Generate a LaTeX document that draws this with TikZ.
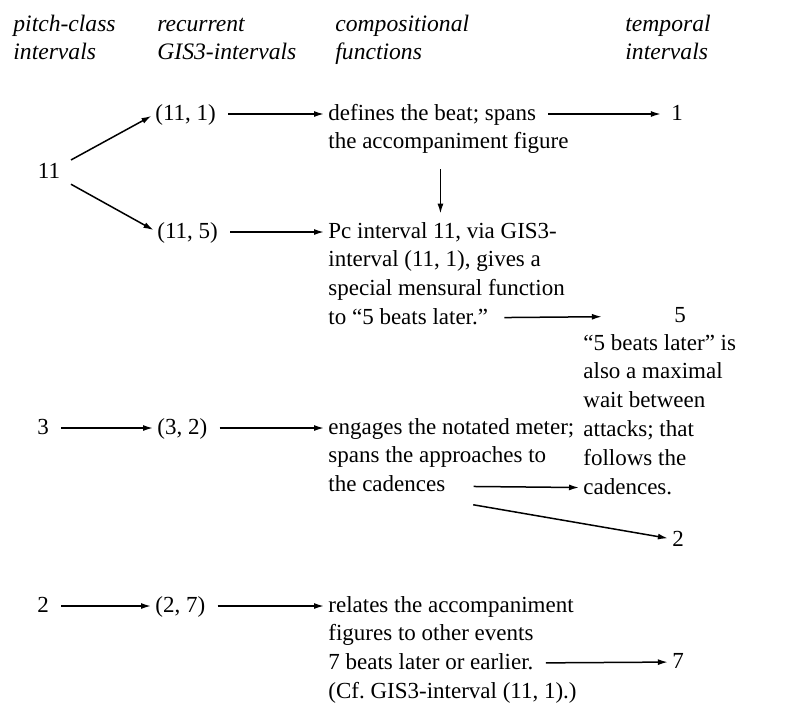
\documentclass[tikz,border=0pt]{standalone}
\usepackage{fontspec}
\setmainfont{Liberation Serif}
\usetikzlibrary{arrows.meta,positioning}

\begin{document}
\begin{tikzpicture}[
    x=0.5pt, y=-0.5pt,
    every node/.style={font=\fontsize{11.5}{14}\selectfont, inner sep=0pt},
    txt/.style={anchor=west, text height=10pt, text depth=4pt},
    num/.style={text height=10pt, text depth=4pt},
    nextline/.style={below=0pt of #1, anchor=north west, text height=10pt, text depth=4pt},
    colhead/.style={txt, font=\fontsize{11.8}{14}\selectfont\itshape},
    arrow/.style={-{Latex[length=5pt,width=3pt]}, line width=0.75pt, shorten <=6pt, shorten >=2pt}
  ]
  \useasboundingbox (0,0) rectangle (791,703);

  % column heads
  \node[colhead] (hpitch) at (13,25) {pitch-class};
  \node[colhead, nextline=hpitch.south west] (hpitch2) {intervals};
  \node[colhead] (hrec) at (157,25) {recurrent};
  \node[colhead, nextline=hrec.south west] (hrec2) {GIS3-intervals};
  \node[colhead] (hcomp) at (335,25) {compositional};
  \node[colhead, nextline=hcomp.south west] (hcomp2) {functions};
  \node[colhead] (htemp) at (625,25) {temporal};
  \node[colhead, nextline=htemp.south west] (htemp2) {intervals};

  % pitch-class intervals
  \node[num] (pc11) at (49,172) {11};
  \node[num] (pc3) at (43,428) {3};
  \node[num] (pc2) at (43,606) {2};

  % recurrent GIS3-intervals
  \node[txt] (r111) at (155,114) {(11, 1)};
  \node[txt] (r115) at (157,232) {(11, 5)};
  \node[txt] (r32) at (157,428) {(3, 2)};
  \node[txt] (r27) at (155,606) {(2, 7)};

  % compositional functions
  \node[txt] (beat1) at (328,114) {defines the beat; spans};
  \node[nextline=beat1.south west] (beat2) {the accompaniment figure};
  \node[txt] (pcint1) at (328,232) {Pc interval 11, via GIS3-};
  \node[nextline=pcint1.south west] (pcint2) {interval (11, 1), gives a};
  \node[nextline=pcint2.south west] (pcint3) {special mensural function};
  \node[nextline=pcint3.south west] (pcint4) {to “5 beats later.”};
  \node[txt] (meter1) at (328,428) {engages the notated meter;};
  \node[nextline=meter1.south west] (meter2) {spans the approaches to};
  \node[nextline=meter2.south west] (meter3) {the cadences};
  \node[txt] (rel1) at (328,606) {relates the accompaniment};
  \node[nextline=rel1.south west] (rel2) {figures to other events};
  \node[nextline=rel2.south west] (rel3) {7 beats later or earlier.};
  \node[nextline=rel3.south west] (rel4) {(Cf.\ GIS3-interval (11, 1).)};

  \node[txt] (later1) at (583,344) {“5 beats later” is};
  \node[nextline=later1.south west] (later2) {also a maximal};
  \node[nextline=later2.south west] (later3) {wait between};
  \node[nextline=later3.south west] (later4) {attacks; that};
  \node[nextline=later4.south west] (later5) {follows the};
  \node[nextline=later5.south west] (later6) {cadences.};

  % temporal intervals
  \node[num] (t1) at (677,114) {1};
  \node[num] (t5) at (680,316) {5};
  \node[num] (t2) at (678,540) {2};
  \node[num] (t7) at (678,662) {7};

  \draw[arrow] (pc11) -- (r111.west);
  \draw[arrow] (pc11) -- (r115.west);
  \draw[arrow] (pc3) -- (r32);
  \draw[arrow] (pc2) -- (r27);
  \draw[arrow] (r111) -- (beat1);
  \draw[arrow] (r115) -- (pcint1);
  \draw[arrow] (r32) -- (meter1);
  \draw[arrow] (r27) -- (rel1);
  \draw[arrow, shorten >=5pt] (beat1) -- (t1);
  \coordinate (drop) at ([xshift=-4pt]beat2.south);
  \draw[arrow] (drop) -- (drop |- pcint1.north);
  \draw[arrow, shorten <=8pt, shorten >=36pt] (pcint4) -- (t5);
  \draw[arrow, shorten <=14pt] (meter3) -- (later6);
  \draw[arrow, shorten <=14pt] (meter3.south east) -- (t2);
  \draw[arrow] (rel3) -- (t7);
\end{tikzpicture}
\end{document}
